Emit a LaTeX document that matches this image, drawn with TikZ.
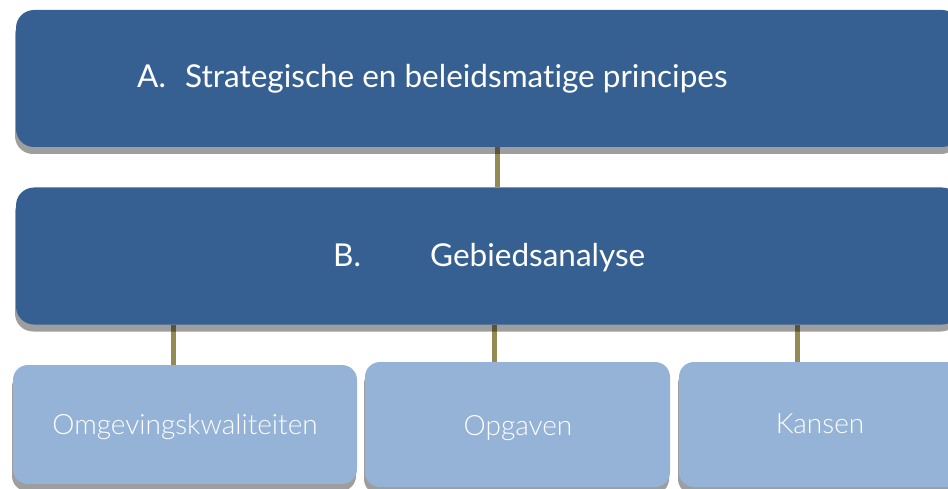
\documentclass[tikz,border=0pt]{standalone}
\usepackage{fontspec}
\setmainfont{Lato}[Ligatures=NoCommon]
\newfontfamily\lightfont{Lato Light}[Ligatures=NoCommon]
\usetikzlibrary{shadows}
\definecolor{darkblue}{RGB}{54,96,146}
\definecolor{lightblue}{RGB}{149,179,215}
\definecolor{olive}{RGB}{148,138,84}
\pgfdeclarelayer{background}
\pgfsetlayers{background,main}
\tikzset{
  boxshadow/.style={general shadow={fill=black, opacity=0.38, shadow xshift=-1pt, shadow yshift=-7pt}},
  mainbox/.style={boxshadow, fill=darkblue, rounded corners=18pt, inner sep=0pt, minimum width=944pt, minimum height=137pt},
  subbox/.style={boxshadow, fill=lightblue, rounded corners=15pt, inner sep=0pt, minimum height=125pt},
  boxtext/.style={text=white, inner sep=0pt, anchor=base west, font=\fontsize{31.5}{36}\selectfont},
  subtext/.style={text=white, inner sep=0pt, anchor=base, font=\lightfont\fontsize{28}{34}\selectfont},
  link/.style={draw=olive, line width=5pt}
}
\begin{document}
\begin{tikzpicture}[x=1pt, y=-1pt]
			%%%%% START %%%%%
			\useasboundingbox (0,0) rectangle (948,489);
			\clip (0,0) rectangle (948,489);
			
			\node[mainbox] (strat) at (488, 78.5) {};
			\node[mainbox] (area) at (488, 256) {};
			
			\node[subbox, minimum width=344pt, minimum height=119pt] (qual) at (185, 424.5) {};
			\node[subbox, minimum width=305pt] (task) at (517.5, 424.5) {};
			\node[subbox, minimum width=283pt] (chance) at (820.5, 424.5) {};
			
			\node[boxtext] (stratA) at (137, 88) {A.};
			\node[boxtext] (stratT) at (185, 88) {Strategische en beleidsmatige principes};
			\node[boxtext] (areaB) at (333, 266) {B.};
			\node[boxtext] (areaT) at (430, 266) {Gebiedsanalyse};
			
			\node[subtext] (qualT) at (185, 434) {Omgevingskwaliteiten};
			\node[subtext] (taskT) at (518, 435) {Opgaven};
			\node[subtext] (chanceT) at (820, 433) {Kansen};
			
			\begin{pgfonlayer}{background}
			\draw[link] ([xshift=9pt]strat.south) -- ([xshift=9pt]area.north);
			\draw[link] ([xshift=-12pt]qual.north |- area.south) -- ([xshift=-12pt]qual.north);
			\draw[link] ([xshift=-23.5pt]task.north |- area.south) -- ([xshift=-23.5pt]task.north);
			\draw[link] ([xshift=-23.5pt]chance.north |- area.south) -- ([xshift=-23.5pt]chance.north);
			\end{pgfonlayer}
			
			%%%%% END %%%%%
		\end{tikzpicture}
\end{document}
